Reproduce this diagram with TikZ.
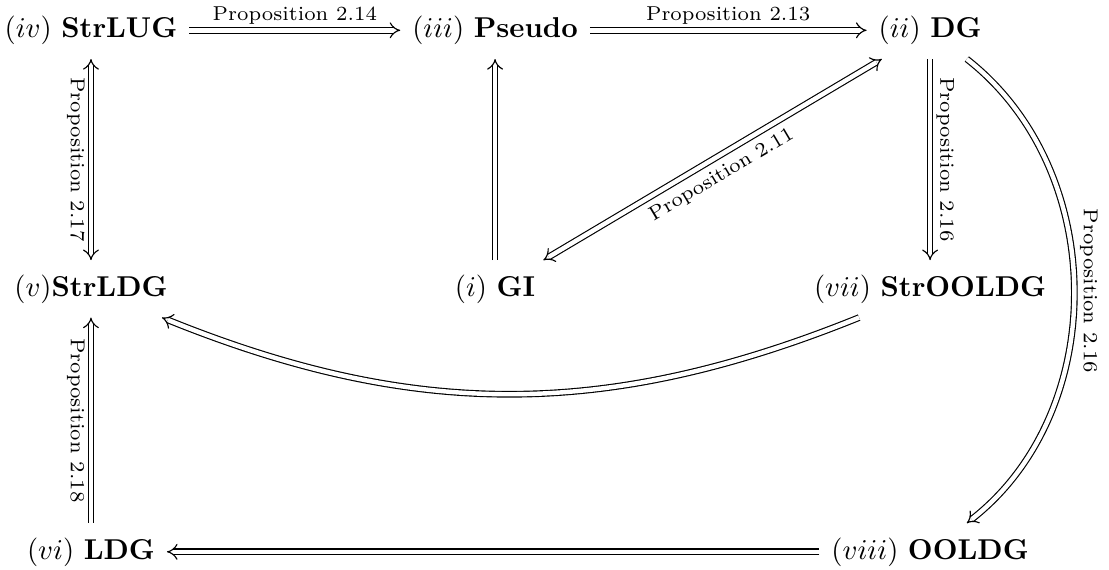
\documentclass[tikz,border=0pt]{standalone}
\usepackage{amsmath,amssymb}
\usepackage{tikz}
\usetikzlibrary{arrows.meta,positioning,calc}
\tikzset{
  cls/.style ={anchor=base, inner xsep=4pt, inner ysep=4.8pt},
  impl/.style={double, double equal sign distance, -{Implies}},
  lbl/.style ={font=\scriptsize, inner sep=2pt}
}

\begin{document}
\begin{tikzpicture}
  \useasboundingbox (0,0) rectangle (13.58,-6.968);
  \node[cls] (strlug)   at (1.114,-0.459)  {$(iv)$ \textbf{StrLUG}};
  \node[cls] (pseudo)   at (6.062,-0.459)  {$(iii)$ \textbf{Pseudo}};
  \node[cls] (dg)       at (11.389,-0.459) {$(ii)$ \textbf{DG}};
  \node[cls] (strldg)   at (1.114,-3.625)  {$(v)$\textbf{StrLDG}};
  \node[cls] (gi)       at (6.062,-3.625)  {$(i)$ \textbf{GI}};
  \node[cls] (strooldg) at (11.389,-3.625) {$(vii)$ \textbf{StrOOLDG}};
  \node[cls] (ldg)      at (1.114,-6.845)  {$(vi)$ \textbf{LDG}};
  \node[cls] (ooldg)    at (11.389,-6.845) {$(viii)$ \textbf{OOLDG}};

  \draw[impl] (strlug) -- node[lbl, above]{Proposition 2.14} (pseudo);
  \draw[impl] (pseudo) -- node[lbl, above]{Proposition 2.13} (dg);
  \draw[impl, Implies-Implies] (strlug) -- node[lbl, sloped, below]{Proposition 2.17} (strldg);
  \draw[impl] (gi) -- (pseudo);
  \draw[impl, Implies-Implies] (gi) -- node[lbl, sloped, below=1pt]{Proposition 2.11} (dg);
  \draw[impl] (dg) -- node[lbl, sloped, above]{Proposition 2.16} (strooldg);
  \draw[impl] (dg) to[bend left=52] node[lbl, sloped, above]{Proposition 2.16} (ooldg);
  \draw[impl] (strooldg) to[bend left=22] (strldg);
  \draw[impl, Implies-] (strldg) -- node[lbl, sloped, below]{Proposition 2.18} (ldg);
  \draw[impl] (ooldg) -- (ldg);
\end{tikzpicture}
\end{document}
